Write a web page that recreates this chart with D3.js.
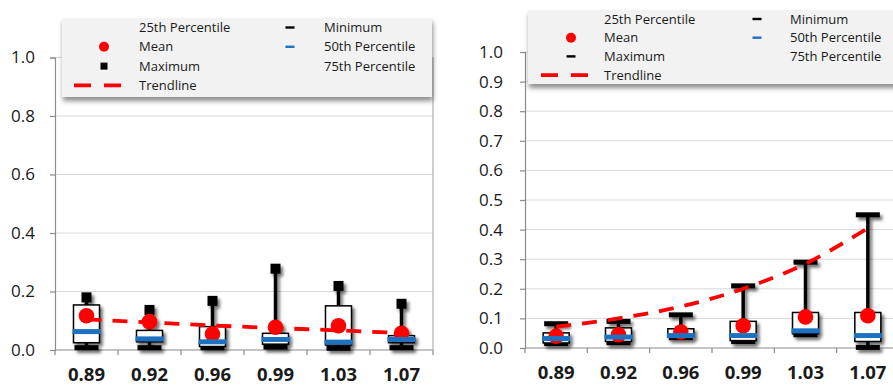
<!DOCTYPE html>
<html>
<head>
<meta charset="utf-8">
<script src="https://cdn.jsdelivr.net/npm/d3@7/dist/d3.min.js"></script>
<style>
  html, body { margin: 0; padding: 0; background: #ffffff; }
  svg { display: block; }
  text { font-family: "Open Sans", "Liberation Sans", sans-serif; fill: #1a1a1a; }
</style>
</head>
<body>
<svg id="chart" width="893" height="387"></svg>
<script>
// Categories shared by both panels
const categories = ["0.89", "0.92", "0.96", "0.99", "1.03", "1.07"];

// Left panel statistics
const leftMin    = [0.008, 0.008, 0.008, 0.010, 0.006, 0.008];
const leftQ1     = [0.025, 0.028, 0.012, 0.020, 0.017, 0.025];
const leftMedian = [0.063, 0.038, 0.028, 0.036, 0.027, 0.036];
const leftQ3     = [0.154, 0.067, 0.080, 0.057, 0.151, 0.049];
const leftMax    = [0.180, 0.137, 0.168, 0.278, 0.219, 0.158];
const leftMean   = [0.117, 0.097, 0.055, 0.078, 0.083, 0.057];
const leftTrend  = [0.105, 0.094, 0.084, 0.075, 0.067, 0.058];
const leftTicks  = [0.0, 0.2, 0.4, 0.6, 0.8, 1.0];

// Right panel statistics
const rightMin    = [0.015, 0.018, 0.035, 0.022, 0.045, 0.002];
const rightQ1     = [0.017, 0.022, 0.040, 0.025, 0.048, 0.022];
const rightMedian = [0.032, 0.037, 0.042, 0.042, 0.058, 0.042];
const rightQ3     = [0.051, 0.068, 0.065, 0.090, 0.120, 0.120];
const rightMax    = [0.082, 0.090, 0.112, 0.210, 0.290, 0.450];
const rightMean   = [0.040, 0.045, 0.054, 0.075, 0.105, 0.109];
const rightTrend  = [0.072, 0.100, 0.140, 0.200, 0.285, 0.405];
const rightTicks  = [0.0, 0.1, 0.2, 0.3, 0.4, 0.5, 0.6, 0.7, 0.8, 0.9, 1.0];

const legendLeftCol  = ["25th Percentile", "Mean", "Maximum", "Trendline"];
const legendRightCol = ["Minimum", "50th Percentile", "75th Percentile"];

const RED = "#ff0000", BLUE = "#1f72c0", AXIS = "#8c8c8c", GRID = "#d9d9d9";

const svg = d3.select("#chart");
const defs = svg.append("defs");
defs.append("filter").attr("id", "markShadow")
  .attr("x", "-50%").attr("y", "-50%").attr("width", "200%").attr("height", "200%")
  .append("feDropShadow").attr("dx", 2.5).attr("dy", 3).attr("stdDeviation", 1.8)
  .attr("flood-color", "#000").attr("flood-opacity", 0.55);
defs.append("filter").attr("id", "legendShadow")
  .attr("x", "-10%").attr("y", "-20%").attr("width", "120%").attr("height", "150%")
  .append("feDropShadow").attr("dx", 1).attr("dy", 4).attr("stdDeviation", 2.5)
  .attr("flood-color", "#000").attr("flood-opacity", 0.45);

function drawPanel(cfg) {
  const g = svg.append("g");
  const x = d3.scaleBand().domain(categories).range(cfg.xRange).paddingInner(0).paddingOuter(0);
  const y = d3.scaleLinear().domain([0, 1]).range(cfg.yRange);
  const [x0, x1] = cfg.xRange;
  const plotRight = Math.min(x1, cfg.clipRight);

  // gridlines
  g.append("g").selectAll("line").data(cfg.ticks.filter(t => t > 0)).join("line")
    .attr("x1", x0).attr("x2", plotRight)
    .attr("y1", d => y(d)).attr("y2", d => y(d))
    .attr("stroke", GRID).attr("stroke-width", 1);

  if (cfg.rightBorder) {
    g.append("line").attr("x1", x1).attr("x2", x1)
      .attr("y1", y(1)).attr("y2", y(0))
      .attr("stroke", "#b0b0b0").attr("stroke-width", 1.2);
  }

  // y axis
  const yAxis = g.append("g").attr("transform", `translate(${x0},0)`)
    .call(d3.axisLeft(y).tickValues(cfg.ticks).tickSize(5).tickPadding(cfg.tickPad).tickFormat(d3.format(".1f")));
  yAxis.select(".domain").attr("stroke", AXIS).attr("stroke-width", 1.2);
  yAxis.selectAll(".tick line").attr("stroke", AXIS).attr("stroke-width", 1.2);
  yAxis.selectAll(".tick text").style("font-size", "17px").attr("fill", "#1a1a1a");

  // x axis
  const xAxis = g.append("g").attr("transform", `translate(0,${y(0)})`)
    .call(d3.axisBottom(x).tickSize(0).tickPadding(18));
  xAxis.select(".domain").remove();
  xAxis.selectAll(".tick text").style("font-size", "18.5px").style("font-weight", "bold");
  g.append("line").attr("x1", x0).attr("x2", plotRight).attr("y1", y(0)).attr("y2", y(0))
    .attr("stroke", AXIS).attr("stroke-width", 1.2);
  const edges = categories.map(c => x(c)).concat([x1]);
  g.append("g").selectAll("line").data(edges).join("line")
    .attr("x1", d => d).attr("x2", d => d).attr("y1", y(0)).attr("y2", y(0) + 5)
    .attr("stroke", AXIS).attr("stroke-width", 1.2);

  const cx = c => x(c) + x.bandwidth() / 2;
  const marks = g.append("g").attr("filter", "url(#markShadow)");

  // whiskers
  marks.append("g").selectAll("line").data(categories).join("line")
    .attr("x1", cx).attr("x2", cx)
    .attr("y1", (c, i) => y(cfg.min[i])).attr("y2", (c, i) => y(cfg.max[i]))
    .attr("stroke", "#000").attr("stroke-width", 3.5);

  // min caps
  marks.append("g").selectAll("rect").data(categories).join("rect")
    .attr("x", c => cx(c) - 12).attr("width", 24)
    .attr("y", (c, i) => y(cfg.min[i]) - 2.5).attr("height", 5)
    .attr("fill", "#000");

  // max markers
  if (cfg.maxSquare) {
    marks.append("g").selectAll("rect").data(categories).join("rect")
      .attr("x", c => cx(c) - 5).attr("width", 10)
      .attr("y", (c, i) => y(cfg.max[i]) - 5).attr("height", 10)
      .attr("fill", "#000");
  } else {
    marks.append("g").selectAll("rect").data(categories).join("rect")
      .attr("x", c => cx(c) - 12).attr("width", 24)
      .attr("y", (c, i) => y(cfg.max[i]) - 2.5).attr("height", 5)
      .attr("fill", "#000");
  }

  // boxes (Q1..Q3)
  marks.append("g").selectAll("rect").data(categories).join("rect")
    .attr("x", c => cx(c) - 13).attr("width", 26)
    .attr("y", (c, i) => y(cfg.q3[i])).attr("height", (c, i) => y(cfg.q1[i]) - y(cfg.q3[i]))
    .attr("fill", "#fff").attr("stroke", "#000").attr("stroke-width", 1.5);

  // means
  marks.append("g").selectAll("circle").data(categories).join("circle")
    .attr("cx", cx).attr("cy", (c, i) => y(cfg.mean[i])).attr("r", 7.8)
    .attr("fill", RED);

  // medians
  marks.append("g").selectAll("rect").data(categories).join("rect")
    .attr("x", c => cx(c) - 14).attr("width", 28)
    .attr("y", (c, i) => y(cfg.median[i]) - 2.5).attr("height", 5)
    .attr("fill", BLUE);

  // trendline
  const line = d3.line().x(d => cx(d.c)).y(d => y(d.v)).curve(d3.curveMonotoneX);
  g.append("path").datum(categories.map((c, i) => ({ c, v: cfg.trend[i] })))
    .attr("d", line).attr("fill", "none").attr("stroke", RED)
    .attr("stroke-width", 3.8).attr("stroke-dasharray", "15,11");

  // legend
  const L = cfg.legend;
  const lg = g.append("g");
  lg.append("rect").attr("x", L.x).attr("y", L.y).attr("width", L.w).attr("height", L.h)
    .attr("fill", "#f2f2f2").attr("filter", "url(#legendShadow)");
  const rowY = i => L.y + L.row0 + i * L.dy;
  lg.selectAll("text.c1").data(legendLeftCol).join("text").attr("class", "c1")
    .attr("x", L.t1).attr("y", (d, i) => rowY(i)).attr("dy", "0.35em")
    .style("font-size", "13px").text(d => d);
  lg.selectAll("text.c2").data(legendRightCol).join("text").attr("class", "c2")
    .attr("x", L.t2).attr("y", (d, i) => rowY(i)).attr("dy", "0.35em")
    .style("font-size", "13px").text(d => d);
  // legend symbols
  lg.append("circle").attr("cx", L.m1).attr("cy", rowY(1)).attr("r", 5).attr("fill", RED);
  if (cfg.maxSquare) {
    lg.append("rect").attr("x", L.m1 - 3.5).attr("y", rowY(2) - 3.5).attr("width", 7).attr("height", 7).attr("fill", "#000");
  } else {
    lg.append("rect").attr("x", L.m1 - 4.5).attr("y", rowY(2) - 1.2).attr("width", 9).attr("height", 2.4).attr("fill", "#000");
  }
  lg.append("line").attr("x1", L.m1 - 30).attr("x2", L.m1 + 18).attr("y1", rowY(3)).attr("y2", rowY(3))
    .attr("stroke", RED).attr("stroke-width", 3.8).attr("stroke-dasharray", "17,13");
  lg.append("rect").attr("x", L.m2 - 4.5).attr("y", rowY(0) - 1.2).attr("width", 9).attr("height", 2.4).attr("fill", "#000");
  lg.append("rect").attr("x", L.m2 - 4.5).attr("y", rowY(1) - 1.2).attr("width", 9).attr("height", 2.4).attr("fill", BLUE);
}

drawPanel({
  xRange: [55, 433], yRange: [350, 57.5], clipRight: 433, rightBorder: true, tickPad: 15,
  ticks: leftTicks, maxSquare: true,
  min: leftMin, q1: leftQ1, median: leftMedian, q3: leftQ3, max: leftMax, mean: leftMean, trend: leftTrend,
  legend: { x: 62, y: 18, w: 370, h: 79, row0: 9.5, dy: 19.3, m1: 104, t1: 139, m2: 290, t2: 324 }
});

drawPanel({
  xRange: [525, 899], yRange: [348, 52], clipRight: 893, rightBorder: false, tickPad: 17,
  ticks: rightTicks, maxSquare: false,
  min: rightMin, q1: rightQ1, median: rightMedian, q3: rightQ3, max: rightMax, mean: rightMean, trend: rightTrend,
  legend: { x: 528, y: 10, w: 370, h: 74, row0: 9, dy: 18.7, m1: 571, t1: 604, m2: 757, t2: 790 }
});
</script>
</body>
</html>
